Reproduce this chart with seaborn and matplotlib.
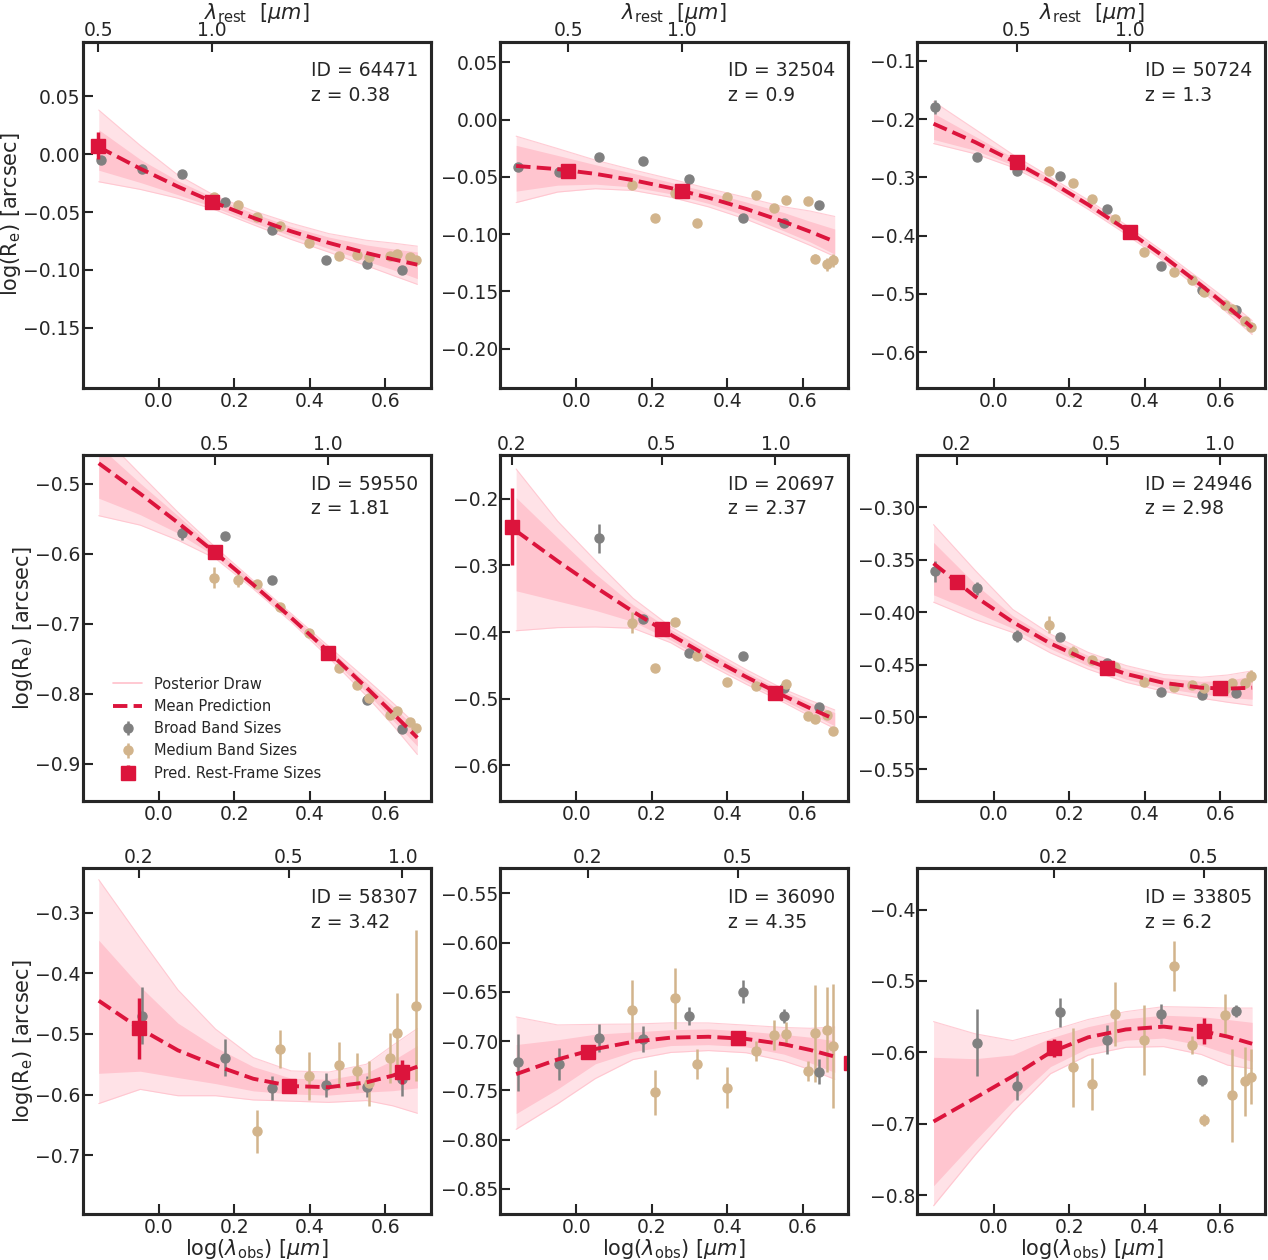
import numpy as np
import matplotlib
matplotlib.use("Agg")
import matplotlib.pyplot as plt
from matplotlib.lines import Line2D
import seaborn as sns

nan = np.nan

# filter pivot wavelengths (micron)
BB_WAVE = [0.70, 0.90, 1.15, 1.50, 1.99, 2.77, 3.56, 4.40]
MB_WAVE = [1.40, 1.62, 1.82, 2.09, 2.50, 3.00, 3.35, 3.60, 4.10, 4.28, 4.63, 4.80]
REST_WAVE = [0.2, 0.5, 1.0]

IDS = [64471, 32504, 50724, 59550, 20697, 24946, 58307, 36090, 33805]
REDSHIFTS = [0.38, 0.9, 1.3, 1.81, 2.37, 2.98, 3.42, 4.35, 6.2]

BB_SIZE = [
    [-0.0049, -0.0127, -0.0167, -0.0410, -0.0654, -0.0916, -0.0948, -0.1000],
    [-0.0416, -0.0462, -0.0328, -0.0366, -0.0523, -0.0858, -0.0901, -0.0744],
    [-0.180, -0.2646, -0.289, -0.2977, -0.355, -0.453, -0.493, -0.527],
    [nan, nan, -0.5705, -0.5748, -0.638, -0.742, -0.8095, -0.850],
    [nan, nan, -0.2595, -0.381, -0.4315, -0.4365, -0.4835, -0.5125],
    [-0.3608, -0.3774, -0.4226, -0.4242, -0.4484, -0.4758, -0.4793, -0.4768],
    [nan, -0.4697, nan, -0.539, -0.5887, -0.5848, -0.587, -0.574],
    [-0.7215, -0.7232, -0.6968, -0.6978, -0.6745, -0.6498, -0.6742, -0.731],
    [nan, -0.5869, -0.6467, -0.5439, -0.5822, -0.5467, -0.6393, -0.542],
]
BB_ERR = [
    [0.003, 0.002, 0.002, 0.002, 0.002, 0.002, 0.002, 0.002],
    [0.002, 0.002, 0.002, 0.002, 0.002, 0.002, 0.002, 0.002],
    [0.012, 0.003, 0.003, 0.002, 0.003, 0.003, 0.003, 0.003],
    [0.0, 0.0, 0.010, 0.004, 0.004, 0.004, 0.004, 0.004],
    [0.0, 0.0, 0.022, 0.005, 0.005, 0.004, 0.004, 0.004],
    [0.010, 0.006, 0.006, 0.003, 0.003, 0.003, 0.003, 0.003],
    [0.0, 0.047, 0.0, 0.030, 0.020, 0.020, 0.017, 0.028],
    [0.029, 0.016, 0.014, 0.013, 0.009, 0.012, 0.007, 0.013],
    [0.0, 0.047, 0.020, 0.020, 0.020, 0.014, 0.008, 0.008],
]

MB_SIZE = [
    [-0.037, -0.0438, -0.0545, -0.0617, -0.0767, -0.0876, -0.0871, -0.0885, -0.0879, -0.0865, -0.0888, -0.0916],
    [-0.057, -0.0858, -0.064, -0.090, -0.0677, -0.0663, -0.077, -0.070, -0.0715, -0.1215, -0.1265, -0.123],
    [-0.289, -0.309, -0.337, -0.371, -0.4286, -0.463, -0.476, -0.4966, -0.519, -0.526, -0.546, -0.556],
    [-0.634, -0.638, -0.643, -0.676, -0.714, -0.763, -0.787, -0.807, -0.831, -0.825, -0.840, -0.8486],
    [-0.386, -0.4535, -0.385, -0.4365, -0.475, -0.4815, -0.490, -0.4785, -0.5265, -0.530, -0.525, -0.549],
    [-0.4121, -0.4376, -0.4459, -0.452, -0.4669, -0.471, -0.4697, -0.472, -0.473, -0.4675, -0.4675, -0.4608],
    [nan, nan, -0.661, -0.525, -0.569, -0.5507, -0.5606, -0.5815, -0.540, -0.499, nan, -0.4532],
    [-0.668, -0.752, -0.6566, -0.7235, -0.7472, -0.7097, -0.6938, -0.6928, -0.730, -0.692, -0.6884, -0.7046],
    [nan, -0.621, -0.6444, -0.5458, -0.5832, -0.4785, -0.5897, -0.6949, -0.5477, -0.6603, -0.6407, -0.6341],
]
MB_ERR = [
    [0.002] * 12,
    [0.002, 0.002, 0.002, 0.002, 0.002, 0.002, 0.002, 0.002, 0.002, 0.004, 0.006, 0.006],
    [0.002] * 12,
    [0.015, 0.010, 0.004, 0.003, 0.003, 0.003, 0.003, 0.003, 0.003, 0.003, 0.003, 0.003],
    [0.016, 0.004, 0.004, 0.003, 0.003, 0.003, 0.003, 0.003, 0.003, 0.003, 0.003, 0.003],
    [0.008, 0.005, 0.003, 0.003, 0.003, 0.003, 0.003, 0.003, 0.003, 0.003, 0.004, 0.006],
    [0.0, 0.0, 0.036, 0.032, 0.040, 0.038, 0.030, 0.037, 0.041, 0.066, 0.0, 0.125],
    [0.030, 0.023, 0.031, 0.015, 0.021, 0.010, 0.015, 0.012, 0.010, 0.049, 0.043, 0.063],
    [0.0, 0.055, 0.036, 0.045, 0.049, 0.035, 0.013, 0.008, 0.030, 0.065, 0.048, 0.039],
]

# predicted sizes at the rest-frame wavelengths 0.2, 0.5, 1.0 micron
PRED_SIZE = [
    [nan, 0.0074, -0.041],
    [nan, -0.045, -0.062],
    [nan, -0.2737, -0.394],
    [nan, -0.5976, -0.742],
    [-0.2415, -0.396, -0.4915],
    [-0.371, -0.4529, -0.4726],
    [-0.4906, -0.5865, -0.5634],
    [-0.7107, -0.6972, -0.722],
    [-0.594, -0.5706, nan],
]
PRED_ERR = [
    [0.0, 0.0115, 0.002],
    [0.0, 0.006, 0.003],
    [0.0, 0.003, 0.003],
    [0.0, 0.004, 0.004],
    [0.058, 0.008, 0.004],
    [0.006, 0.004, 0.004],
    [0.05, 0.007, 0.02],
    [0.007, 0.006, 0.006],
    [0.012, 0.018, 0.0],
]

# mean prediction read at these log(lambda_obs) positions
X_GRID = [-0.16, -0.05, 0.05, 0.15, 0.25, 0.35, 0.45, 0.55, 0.62, 0.685]
MEAN_PRED = [
    [0.0062, -0.0124, -0.028, -0.0422, -0.055, -0.0666, -0.0766, -0.0854, -0.0908, -0.0955],
    [-0.0405, -0.0433, -0.0474, -0.0529, -0.0598, -0.0682, -0.078, -0.0892, -0.0979, -0.1066],
    [-0.2081, -0.2396, -0.2719, -0.3076, -0.3469, -0.3895, -0.4357, -0.4853, -0.522, -0.5577],
    [-0.4705, -0.514, -0.5555, -0.5989, -0.6442, -0.6913, -0.7404, -0.7913, -0.8281, -0.8631],
    [-0.2481, -0.2934, -0.3324, -0.3693, -0.4041, -0.4368, -0.4674, -0.4959, -0.5146, -0.531],
    [-0.3535, -0.385, -0.4094, -0.4299, -0.4464, -0.4589, -0.4675, -0.4721, -0.473, -0.4721],
    [-0.445, -0.4915, -0.527, -0.552, -0.574, -0.586, -0.588, -0.580, -0.5687, -0.554],
    [-0.7335, -0.7186, -0.708, -0.7007, -0.6965, -0.6956, -0.6978, -0.7032, -0.709, -0.7157],
    [-0.697, -0.664, -0.6336, -0.600, -0.579, -0.568, -0.564, -0.570, -0.578, -0.588],
]
# spread of the posterior draws above / below the mean (dense core and outer edge)
INNER_UP = [
    [0.015, 0.008, 0.005, 0.004, 0.004, 0.004, 0.005, 0.007, 0.009, 0.011],
    [0.018, 0.012, 0.008, 0.006, 0.005, 0.005, 0.006, 0.008, 0.009, 0.011],
    [0.018, 0.010, 0.006, 0.005, 0.005, 0.005, 0.005, 0.006, 0.007, 0.007],
    [0.025, 0.015, 0.010, 0.005, 0.004, 0.004, 0.005, 0.007, 0.010, 0.012],
    [0.050, 0.035, 0.020, 0.010, 0.008, 0.008, 0.007, 0.007, 0.008, 0.010],
    [0.020, 0.012, 0.006, 0.005, 0.005, 0.005, 0.005, 0.006, 0.008, 0.011],
    [0.100, 0.070, 0.045, 0.030, 0.020, 0.013, 0.013, 0.016, 0.025, 0.035],
    [0.030, 0.020, 0.015, 0.010, 0.008, 0.008, 0.008, 0.010, 0.013, 0.016],
    [0.090, 0.055, 0.030, 0.020, 0.015, 0.015, 0.016, 0.020, 0.024, 0.030],
]
INNER_DN = [
    [0.020, 0.012, 0.007, 0.004, 0.004, 0.004, 0.005, 0.007, 0.009, 0.012],
    [0.022, 0.014, 0.009, 0.006, 0.005, 0.005, 0.006, 0.008, 0.009, 0.011],
    [0.027, 0.014, 0.007, 0.005, 0.005, 0.005, 0.005, 0.006, 0.007, 0.007],
    [0.050, 0.030, 0.015, 0.005, 0.004, 0.004, 0.005, 0.007, 0.010, 0.012],
    [0.090, 0.060, 0.035, 0.015, 0.008, 0.008, 0.007, 0.007, 0.008, 0.010],
    [0.030, 0.015, 0.006, 0.005, 0.005, 0.005, 0.005, 0.006, 0.008, 0.011],
    [0.120, 0.070, 0.045, 0.030, 0.020, 0.013, 0.013, 0.016, 0.025, 0.035],
    [0.040, 0.030, 0.015, 0.010, 0.008, 0.008, 0.008, 0.010, 0.013, 0.016],
    [0.090, 0.060, 0.035, 0.020, 0.015, 0.015, 0.016, 0.020, 0.024, 0.025],
]
OUTER_UP = [
    [0.032, 0.020, 0.010, 0.006, 0.006, 0.007, 0.008, 0.011, 0.014, 0.016],
    [0.026, 0.018, 0.012, 0.009, 0.008, 0.008, 0.010, 0.013, 0.018, 0.022],
    [0.038, 0.022, 0.011, 0.008, 0.008, 0.008, 0.008, 0.009, 0.011, 0.012],
    [0.045, 0.028, 0.015, 0.008, 0.006, 0.006, 0.008, 0.012, 0.015, 0.017],
    [0.093, 0.060, 0.040, 0.020, 0.012, 0.012, 0.011, 0.010, 0.012, 0.014],
    [0.037, 0.025, 0.012, 0.009, 0.008, 0.008, 0.008, 0.010, 0.013, 0.016],
    [0.200, 0.150, 0.100, 0.060, 0.035, 0.025, 0.025, 0.030, 0.050, 0.063],
    [0.058, 0.035, 0.025, 0.018, 0.015, 0.014, 0.014, 0.017, 0.022, 0.030],
    [0.140, 0.090, 0.050, 0.030, 0.025, 0.025, 0.028, 0.033, 0.040, 0.050],
]
OUTER_DN = [
    [0.030, 0.018, 0.010, 0.006, 0.006, 0.007, 0.008, 0.011, 0.014, 0.017],
    [0.032, 0.020, 0.013, 0.009, 0.008, 0.008, 0.009, 0.011, 0.012, 0.013],
    [0.034, 0.020, 0.011, 0.008, 0.008, 0.008, 0.008, 0.009, 0.011, 0.012],
    [0.075, 0.045, 0.025, 0.008, 0.006, 0.006, 0.008, 0.012, 0.017, 0.024],
    [0.150, 0.100, 0.060, 0.025, 0.012, 0.012, 0.011, 0.010, 0.012, 0.014],
    [0.037, 0.022, 0.010, 0.009, 0.008, 0.008, 0.008, 0.010, 0.013, 0.017],
    [0.170, 0.100, 0.075, 0.050, 0.035, 0.025, 0.025, 0.030, 0.050, 0.077],
    [0.056, 0.045, 0.030, 0.018, 0.015, 0.014, 0.014, 0.017, 0.020, 0.023],
    [0.118, 0.080, 0.050, 0.030, 0.025, 0.025, 0.028, 0.033, 0.040, 0.035],
]

YLIMS = [(-0.2017, 0.0973), (-0.234, 0.068), (-0.6606, -0.0674),
         (-0.9533, -0.4586), (-0.6535, -0.134), (-0.580, -0.250),
         (-0.7975, -0.226), (-0.8754, -0.5246), (-0.8266, -0.342)]
YTICKS = [[-0.15, -0.10, -0.05, 0.00, 0.05],
          [-0.20, -0.15, -0.10, -0.05, 0.00, 0.05],
          [-0.6, -0.5, -0.4, -0.3, -0.2, -0.1],
          [-0.9, -0.8, -0.7, -0.6, -0.5],
          [-0.6, -0.5, -0.4, -0.3, -0.2],
          [-0.55, -0.50, -0.45, -0.40, -0.35, -0.30],
          [-0.7, -0.6, -0.5, -0.4, -0.3],
          [-0.85, -0.80, -0.75, -0.70, -0.65, -0.60, -0.55],
          [-0.8, -0.7, -0.6, -0.5, -0.4]]
XLIM = (-0.2026, 0.72)
XTICKS = [0.0, 0.2, 0.4, 0.6]

sns.set_style("ticks")
plt.rcParams['font.family'] = ['DejaVu Sans']
plt.rcParams['mathtext.fontset'] = 'dejavusans'

fig, axes = plt.subplots(3, 3, figsize=(12.68, 12.6), dpi=100)
fig.subplots_adjust(left=0.0652, right=0.9979, top=0.9669, bottom=0.0365,
                    wspace=0.2, hspace=0.195)

x_grid = np.array(X_GRID)
bb_x = np.log10(BB_WAVE)
mb_x = np.log10(MB_WAVE)

for i, ax in enumerate(axes.flat):
    z = REDSHIFTS[i]
    mean = np.array(MEAN_PRED[i])
    lo_out = mean - np.array(OUTER_DN[i])
    hi_out = mean + np.array(OUTER_UP[i])

    # posterior draws: outer envelope and dense core
    ax.fill_between(x_grid, lo_out, hi_out, color='pink', alpha=0.45, lw=0, zorder=1)
    ax.fill_between(x_grid, mean - np.array(INNER_DN[i]), mean + np.array(INNER_UP[i]),
                    color='pink', alpha=0.85, lw=0, zorder=1)
    ax.plot(x_grid, lo_out, color='pink', lw=0.8, alpha=0.8, zorder=1)
    ax.plot(x_grid, hi_out, color='pink', lw=0.8, alpha=0.8, zorder=1)

    bb_y = np.array(BB_SIZE[i])
    m = ~np.isnan(bb_y)
    bb = ax.errorbar(bb_x[m], bb_y[m], yerr=np.array(BB_ERR[i])[m], fmt='o',
                     color='gray', ms=6.5, elinewidth=1.8, capsize=0, zorder=3)
    mb_y = np.array(MB_SIZE[i])
    m = ~np.isnan(mb_y)
    mb = ax.errorbar(mb_x[m], mb_y[m], yerr=np.array(MB_ERR[i])[m], fmt='o',
                     color='tan', ms=6.5, elinewidth=1.8, capsize=0, zorder=3)

    sns.lineplot(x=x_grid, y=mean, ax=ax, color='crimson', lw=2.8,
                 linestyle='--', zorder=4)

    pr_x = np.log10(np.array(REST_WAVE) * (1 + z))
    pr_y = np.array(PRED_SIZE[i])
    m = ~np.isnan(pr_y)
    pr = ax.errorbar(pr_x[m], pr_y[m], yerr=np.array(PRED_ERR[i])[m], fmt='s',
                     color='crimson', ms=10, elinewidth=2.5, capsize=0, zorder=5)

    ax.set_xlim(XLIM)
    ax.set_ylim(YLIMS[i])
    ax.set_xticks(XTICKS)
    ax.set_yticks(YTICKS[i])
    ax.tick_params(direction='in', length=7, width=1.5, labelsize=13.5,
                   top=False, right=False)
    ax.tick_params(axis='y', pad=1.5)
    ax.tick_params(axis='x', pad=3)
    for sp in ax.spines.values():
        sp.set_linewidth(2.2)

    ax.text(0.655, 0.90, f'ID = {IDS[i]}', transform=ax.transAxes,
            fontsize=13.5, va='baseline', ha='left')
    ax.text(0.655, 0.828, f'z = {z}', transform=ax.transAxes,
            fontsize=13.5, va='baseline', ha='left')

    # rest-frame wavelength axis on top
    top = ax.twiny()
    top.set_xlim(XLIM)
    rest_pos = [(np.log10(w * (1 + z)), f'{w:.1f}') for w in REST_WAVE
                if XLIM[0] <= np.log10(w * (1 + z)) <= XLIM[1]]
    top.set_xticks([p for p, _ in rest_pos])
    top.set_xticklabels([lab for _, lab in rest_pos])
    top.tick_params(direction='in', length=7, width=1.5, labelsize=13.5, pad=1)
    for sp in top.spines.values():
        sp.set_linewidth(2.2)

    row, col = divmod(i, 3)
    if row == 0:
        top.set_xlabel(r'$\lambda_{\rm rest}$  $[\mu m]$', fontsize=15, labelpad=2)
    if row == 2:
        ax.set_xlabel(r'log($\lambda_{\rm obs}$) [$\mu m$]', fontsize=15, labelpad=0)
    else:
        ax.set_xlabel('')
    if col == 0:
        ax.set_ylabel(r'log(R$_{\rm e}$) [arcsec]', fontsize=15, labelpad=0)
    else:
        ax.set_ylabel('')

    if i == 3:
        handles = [Line2D([], [], color='pink', lw=1.2),
                   Line2D([], [], color='crimson', lw=2.8, ls='--'),
                   bb, mb, pr]
        labels = ['Posterior Draw', 'Mean Prediction', 'Broad Band Sizes',
                  'Medium Band Sizes', 'Pred. Rest-Frame Sizes']
        ax.legend(handles, labels, loc='lower left', bbox_to_anchor=(0.05, 0.02),
                  frameon=False, fontsize=10.5, labelspacing=0.5)

fig.savefig('out.png', dpi=100)
